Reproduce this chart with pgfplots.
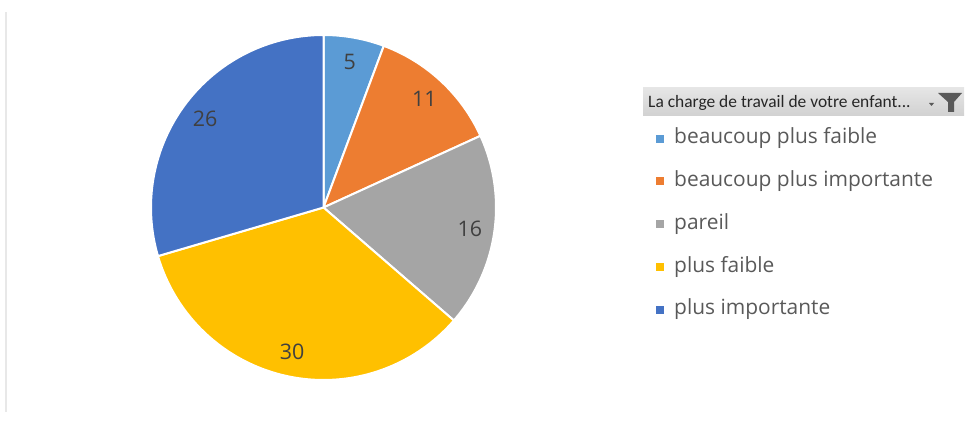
\documentclass[border=0pt]{standalone}
\usepackage{pgfplots}
\usepackage{pgfplotstable}
\pgfplotsset{compat=1.18}
\usepackage{fontspec}
\setmainfont{Open Sans}
\newfontfamily\headfont{Carlito}
\definecolor{cA}{HTML}{5B9BD5}
\definecolor{cB}{HTML}{ED7D31}
\definecolor{cC}{HTML}{A5A5A5}
\definecolor{cD}{HTML}{FFC000}
\definecolor{cE}{HTML}{4472C4}
\definecolor{lbl}{HTML}{404040}
\definecolor{legtxt}{HTML}{595959}

\pgfplotstableread{
value label
5  {beaucoup plus faible}
11 {beaucoup plus importante}
16 {pareil}
30 {plus faible}
26 {plus importante}
}\piedata

\pgfplotstablegetelem{0}{value}\of\piedata \let\vA\pgfplotsretval
\pgfplotstablegetelem{1}{value}\of\piedata \let\vB\pgfplotsretval
\pgfplotstablegetelem{2}{value}\of\piedata \let\vC\pgfplotsretval
\pgfplotstablegetelem{3}{value}\of\piedata \let\vD\pgfplotsretval
\pgfplotstablegetelem{4}{value}\of\piedata \let\vE\pgfplotsretval
\pgfmathsetmacro\tot{\vA+\vB+\vC+\vD+\vE}
\pgfmathsetmacro\aA{90}
\pgfmathsetmacro\aB{\aA-360*\vA/\tot}
\pgfmathsetmacro\aC{\aB-360*\vB/\tot}
\pgfmathsetmacro\aD{\aC-360*\vC/\tot}
\pgfmathsetmacro\aE{\aD-360*\vD/\tot}
\pgfmathsetmacro\aF{\aE-360*\vE/\tot}
\def\cx{323.5}
\def\cy{217.5}
\def\R{172.5}
\def\rl{148}

\begin{document}
\begin{tikzpicture}
\begin{axis}[
  scale only axis, width=966bp, height=425bp,
  xmin=0, xmax=966, ymin=0, ymax=425,
  hide axis, clip=false,
  legend cell align=left,
  legend image code/.code={\fill[#1,draw=none] (0bp,-4bp) rectangle (8bp,4bp);},
  legend style={at={(axis cs:656,296.5)}, anchor=north west, draw=none, fill=none,
    inner sep=0pt, font=\fontsize{21}{24}\selectfont, text=legtxt,
    row sep=22.8bp,
    nodes={inner sep=0pt, text height=15bp, text depth=5bp},
    /tikz/every odd column/.style={column sep=10bp}},
]
\path (axis cs:0,0) rectangle (axis cs:966,425);
\draw[color=black!9, line width=2bp] (axis cs:6,13) -- (axis cs:6,413);

\addplot[fill=cA, draw=white, line width=2bp, domain=\aB:\aA, samples=30, variable=\t]
  ({\cx+\R*cos(\t)},{\cy+\R*sin(\t)}) -- (axis cs:\cx,\cy) -- cycle;
\addlegendentry{beaucoup plus faible}
\addplot[fill=cB, draw=white, line width=2bp, domain=\aC:\aB, samples=40, variable=\t]
  ({\cx+\R*cos(\t)},{\cy+\R*sin(\t)}) -- (axis cs:\cx,\cy) -- cycle;
\addlegendentry{beaucoup plus importante}
\addplot[fill=cC, draw=white, line width=2bp, domain=\aD:\aC, samples=50, variable=\t]
  ({\cx+\R*cos(\t)},{\cy+\R*sin(\t)}) -- (axis cs:\cx,\cy) -- cycle;
\addlegendentry{pareil}
\addplot[fill=cD, draw=white, line width=2bp, domain=\aE:\aD, samples=80, variable=\t]
  ({\cx+\R*cos(\t)},{\cy+\R*sin(\t)}) -- (axis cs:\cx,\cy) -- cycle;
\addlegendentry{plus faible}
\addplot[fill=cE, draw=white, line width=2bp, domain=\aF:\aE, samples=70, variable=\t]
  ({\cx+\R*cos(\t)},{\cy+\R*sin(\t)}) -- (axis cs:\cx,\cy) -- cycle;
\addlegendentry{plus importante}

\pgfmathsetmacro\mA{(\aA+\aB)/2}
\pgfmathsetmacro\mB{(\aB+\aC)/2}
\pgfmathsetmacro\mC{(\aC+\aD)/2}
\pgfmathsetmacro\mD{(\aD+\aE)/2}
\pgfmathsetmacro\mE{(\aE+\aF)/2}
\pgfmathsetmacro\xA{\cx+\rl*cos(\mA)}\pgfmathsetmacro\yA{\cy+\rl*sin(\mA)}
\pgfmathsetmacro\xB{\cx+\rl*cos(\mB)}\pgfmathsetmacro\yB{\cy+\rl*sin(\mB)}
\pgfmathsetmacro\xC{\cx+\rl*cos(\mC)}\pgfmathsetmacro\yC{\cy+\rl*sin(\mC)}
\pgfmathsetmacro\xD{\cx+\rl*cos(\mD)}\pgfmathsetmacro\yD{\cy+\rl*sin(\mD)}
\pgfmathsetmacro\xE{\cx+\rl*cos(\mE)}\pgfmathsetmacro\yE{\cy+\rl*sin(\mE)}
\node[text=lbl, font=\fontsize{21.5}{22}\selectfont] at (axis cs:\xA,\yA) {\vA};
\node[text=lbl, font=\fontsize{21.5}{22}\selectfont] at (axis cs:\xB,\yB) {\vB};
\node[text=lbl, font=\fontsize{21.5}{22}\selectfont] at (axis cs:\xC,\yC) {\vC};
\node[text=lbl, font=\fontsize{21.5}{22}\selectfont] at (axis cs:\xD,\yD) {\vD};
\node[text=lbl, font=\fontsize{21.5}{22}\selectfont] at (axis cs:\xE,\yE) {\vE};

% legend header with filter icon
\shade[top color=black!10, bottom color=black!18] (axis cs:643,337) rectangle (axis cs:964,309);
\node[anchor=base west, inner sep=0pt, text=black!85, font=\headfont\fontsize{17.5}{18}\selectfont]
  at (axis cs:648,317) {La charge de travail de votre enfant...};
\fill[black!65] (axis cs:938,332) -- (axis cs:962,332) -- (axis cs:954,323) -- (axis cs:954,313)
  -- (axis cs:948,313) -- (axis cs:948,323) -- cycle;
\fill[black!65] (axis cs:929,322) -- (axis cs:934,322) -- (axis cs:931.5,319) -- cycle;
\end{axis}
\end{tikzpicture}
\end{document}
